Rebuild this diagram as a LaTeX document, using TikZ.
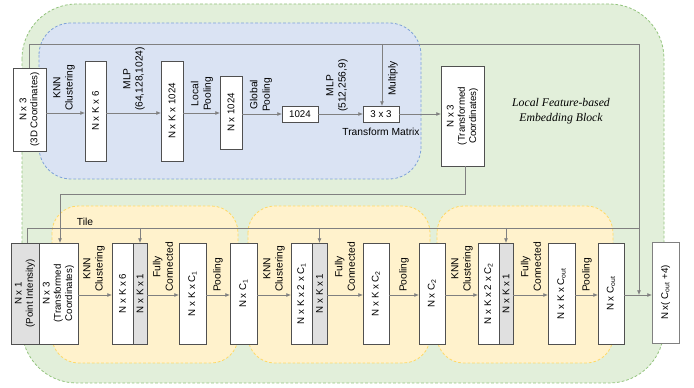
\documentclass[tikz,border=0pt]{standalone}
\usepackage{fontspec}
\setmainfont{Liberation Sans}
\newfontfamily\serifit{Liberation Serif}
\usetikzlibrary{fit,arrows.meta}
\definecolor{grnf}{HTML}{E2EFDA}
\definecolor{grnb}{HTML}{93C47D}
\definecolor{bluf}{HTML}{DAE3F3}
\definecolor{blub}{HTML}{7EA2D8}
\definecolor{yelf}{HTML}{FFF2CC}
\definecolor{yelb}{HTML}{FFD966}
\definecolor{grayc}{HTML}{E0E0E0}
\definecolor{boxc}{HTML}{505050}
\definecolor{linec}{HTML}{808080}
\begin{document}
\begin{tikzpicture}[x=0.75pt,y=-0.75pt,
  box/.style={draw=boxc, fill=white, line width=0.7pt, inner sep=0pt, outer sep=0pt},
  gbox/.style={box, fill=grayc},
  bt/.style={font=\fontsize{7.3}{8.4}\selectfont, align=center, inner sep=0pt},
  vt/.style={label={[bt,rotate=90]center:{#1}}},
  ht/.style={label={[bt]center:{#1}}},
  lab/.style={font=\fontsize{7.7}{9.3}\selectfont, align=center, rotate=90, anchor=west, inner sep=0.6pt},
  ln/.style={draw=linec, line width=0.6pt},
  arr/.style={ln, -{Latex[length=3.5pt,width=3pt]}},
  region/.style={line width=0.6pt, dash pattern=on 2pt off 1.5pt}
]
\useasboundingbox (0,0) rectangle (694,388);
\fill[white] (0,0) rectangle (694,388);

% regions
\path[region, draw=grnb, fill=grnf, rounded corners=41pt] (22,4) rectangle (664,383);
\path[region, draw=blub, fill=bluf, rounded corners=24pt] (39,23) rectangle (421,179);
\path[region, draw=yelb, fill=yelf, rounded corners=20pt] (52,206) rectangle (238,363);
\path[region, draw=yelb, fill=yelf, rounded corners=20pt] (248,206) rectangle (430,363);
\path[region, draw=yelb, fill=yelf, rounded corners=20pt] (437,206) rectangle (613,363);

\node[font=\serifit\itshape\fontsize{8.8}{11.3}\selectfont, align=center] (title) at (561,111) {Local Feature-based\\Embedding Block};

% coordinates
\coordinate (Ya) at (0,113);
\coordinate (Yb) at (0,114);
\coordinate (Yc) at (0,295);
\coordinate (L1) at (29,44);
\coordinate (L2) at (639,44);
\coordinate (L3) at (639,295);
\coordinate (M) at (382,44);
\coordinate (C1) at (465,194);
\coordinate (C2) at (60,194);
\coordinate (T1) at (27,228);
\coordinate (T2) at (639,228);

% top row boxes
\node[box, fit={(13,68) (46,151)}, vt={N x 3\\(3D Coordinates)}] (in) {};
\node[box, fit={(85,61) (106,161)}, vt={N x K x 6}] (t1) {};
\node[box, fit={(161,61) (183,161)}, vt={N x K x 1024}] (t2) {};
\node[box, fit={(220,76) (242,149)}, vt={N x 1024}] (t3) {};
\node[box, fit={(282,106) (318,122)}, ht={1024}] (t4) {};
\node[box, fit={(363,106) (399,122)}, ht={3 x 3}] (t5) {};
\node[box, fit={(441,66) (484,166)}, vt={N x 3\\(Transformed\\Coordinates)}] (t6) {};

% top connectors
\draw[arr] (in.east |- Ya) -- (t1.west |- Ya);
\draw[arr] (t1.east |- Ya) -- (t2.west |- Ya);
\draw[arr] (t2.east |- Ya) -- (t3.west |- Ya);
\draw[arr] (t3.east |- Yb) -- (t4.west |- Yb);
\draw[arr] (t4.east |- Yb) -- (t5.west |- Yb);
\draw[arr] (t5.east |- Yb) -- (t6.west |- Yb);
\draw[arr] (in.north -| L1) -- (L1) -- (L2) -- (L3);
\draw[arr] (M) -- (M |- t5.north);
\draw[arr] (t6.south -| C1) -- (C1) -- (C2) -- (C2 |- 0,243);

% top labels
\node[lab] (l1) at (64,112) {KNN\\Clustering};
\node[lab] (l2) at (134,112) {MLP\\(64,128,1024)};
\node[lab] (l3) at (202,112) {Local\\Pooling};
\node[lab] (l4) at (261,113) {Global\\Pooling};
\node[lab] (l5) at (337,113) {MLP\\(512,256,9)};
\node[lab] (l6) at (393,97) {Multiply};
\node[font=\fontsize{7.7}{9.3}\selectfont, inner sep=0pt] (l7) at (381,132) {Transform Matrix};

% bottom row boxes
\node[gbox, fit={(11,243) (39,344)}, vt={N x 1\\(Point Intensity)}] (b0a) {};
\node[box, fit={(39,243) (78,344)}, vt={N x 3\\(Transformed\\Coordinates)}] (b0b) {};
\node[box, fit={(112,243) (133,344)}, vt={N x K x 6}] (b1a) {};
\node[gbox, fit={(133,243) (147,344)}, vt={N x K x 1}] (b1b) {};
\node[box, fit={(179,243) (206,344)}, vt={N x K x C\textsubscript{1}}] (b2) {};
\node[box, fit={(230,243) (257,344)}, vt={N x C\textsubscript{1}}] (b3) {};
\node[box, fit={(291,243) (312,344)}, vt={N x K x 2 x C\textsubscript{1}}] (b4a) {};
\node[gbox, fit={(312,243) (327,344)}, vt={N x K x 1}] (b4b) {};
\node[box, fit={(363,243) (389,344)}, vt={N x K x C\textsubscript{2}}] (b5) {};
\node[box, fit={(419,243) (445,344)}, vt={N x C\textsubscript{2}}] (b6) {};
\node[box, fit={(478,243) (499,344)}, vt={N x K x 2 x C\textsubscript{2}}] (b7a) {};
\node[gbox, fit={(499,243) (513,344)}, vt={N x K x 1}] (b7b) {};
\node[box, fit={(548,243) (575,344)}, vt={N x K x C\textsubscript{out}}] (b8) {};
\node[box, fit={(598,243) (624,344)}, vt={N x C\textsubscript{out}}] (b9) {};
\node[box, draw=linec, fit={(652,242) (679,343)}, vt={N x( C\textsubscript{out} +4)}] (b10) {};

% bottom connectors
\draw[arr] (b0b.east |- Yc) -- (b1a.west |- Yc);
\draw[arr] (b1b.east |- Yc) -- (b2.west |- Yc);
\draw[arr] (b2.east |- Yc) -- (b3.west |- Yc);
\draw[arr] (b3.east |- Yc) -- (b4a.west |- Yc);
\draw[arr] (b4b.east |- Yc) -- (b5.west |- Yc);
\draw[arr] (b5.east |- Yc) -- (b6.west |- Yc);
\draw[arr] (b6.east |- Yc) -- (b7a.west |- Yc);
\draw[arr] (b7b.east |- Yc) -- (b8.west |- Yc);
\draw[arr] (b8.east |- Yc) -- (b9.west |- Yc);
\draw[arr] (b9.east |- Yc) -- (b10.west |- Yc);
\draw[ln] (b0a.north -| T1) -- (T1) -- (T2);
\draw[arr] (b1b.north |- T1) -- (b1b.north);
\draw[arr] (b4b.north |- T1) -- (b4b.north);
\draw[arr] (b7b.north |- T1) -- (b7b.north);

% bottom labels
\node[font=\fontsize{7.7}{9.3}\selectfont, inner sep=0pt] (tile) at (85,222) {Tile};
\node[lab] (m1) at (94,293) {KNN\\Clustering};
\node[lab] (m2) at (163,293) {Fully\\Connected};
\node[lab] (m3) at (218,293) {Pooling};
\node[lab] (m4) at (274,293) {KNN\\Clustering};
\node[lab] (m5) at (345,293) {Fully\\Connected};
\node[lab] (m6) at (404,293) {Pooling};
\node[lab] (m7) at (462,293) {KNN\\Clustering};
\node[lab] (m8) at (531,293) {Fully\\Connected};
\node[lab] (m9) at (587,293) {Pooling};
\end{tikzpicture}
\end{document}
